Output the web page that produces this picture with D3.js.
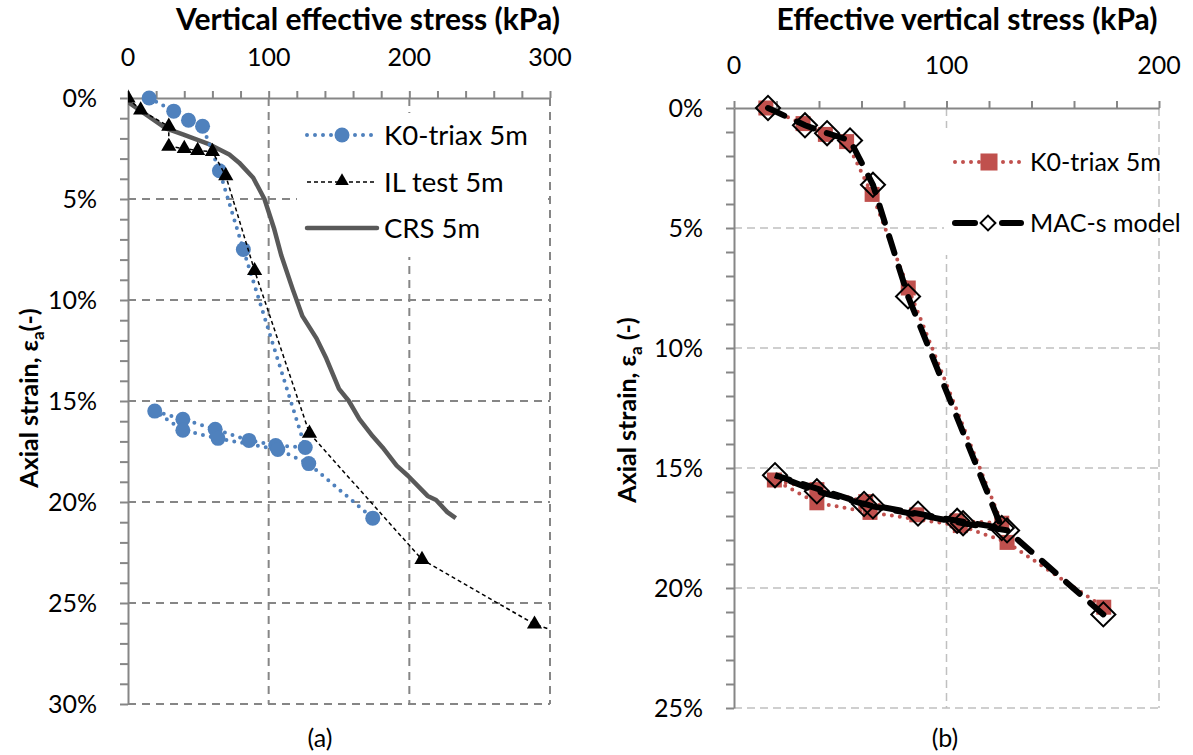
<!DOCTYPE html>
<html>
<head>
<meta charset="utf-8">
<script src="https://cdn.jsdelivr.net/npm/d3@7"></script>
<style>
  body { margin: 0; background: #fff; }
  svg { display: block; font-family: Lato, 'Open Sans', sans-serif; }
</style>
</head>
<body>
<svg id="chart" width="1193" height="755"></svg>
<script>
// K0-triax 5m (same test in both panels): loading, unloading, reloading
const k0Stress = [15, 32.5, 43, 53, 65, 82, 126, 105, 86, 62, 39, 19, 39, 64, 106.5, 128.5, 174]
const k0Strain = [0, 0.65, 1.1, 1.4, 3.6, 7.5, 17.3, 17.2, 16.95, 16.4, 15.9, 15.5, 16.45, 16.85, 17.4, 18.1, 20.8]

// IL test 5m
const ilStress = [0, 9, 29, 29, 40, 49.5, 60, 69.5, 90, 129, 209, 289, 330]
const ilStrain = [0, 0.6, 1.4, 2.4, 2.5, 2.6, 2.65, 3.85, 8.55, 16.6, 22.85, 26.05, 27.0]

// CRS 5m
const crsStress = [0, 27, 39, 58, 72, 79, 89, 97, 104, 109, 117, 124, 134, 141, 150, 157, 164.5, 174, 181, 191, 199, 213, 219, 227, 233]
const crsStrain = [0.2, 1.5, 1.8, 2.3, 2.8, 3.2, 3.95, 5.0, 6.5, 7.8, 9.45, 10.8, 11.9, 12.9, 14.4, 15.0, 15.9, 16.75, 17.3, 18.2, 18.7, 19.7, 19.9, 20.5, 20.8]

// MAC-s model
const macStress = [16, 33.4, 43.8, 54.6, 65.4, 81.9, 126, 105, 86.6, 61.2, 39, 19.3, 65.4, 107.8, 128.5, 173.8]
const macStrain = [0, 0.72, 1.05, 1.35, 3.2, 7.85, 17.5, 17.2, 16.9, 16.5, 15.97, 15.3, 16.6, 17.3, 17.6, 21.1]

// axis ticks
const xTicksA = [0, 100, 200, 300]
const yTicksA = [0, 5, 10, 15, 20, 25, 30]
const xTicksB = [0, 100, 200]
const yTicksB = [0, 5, 10, 15, 20, 25]

const svg = d3.select('#chart')
const zip = (a, b) => a.map((v, i) => [v, b[i]])

function panel (o) {
  const g = svg.append('g')
  const x = d3.scaleLinear().domain([0, d3.max(o.xTicks)]).range(o.xr)
  const y = d3.scaleLinear().domain([0, d3.max(o.yTicks)]).range(o.yr)

  g.append('clipPath').attr('id', o.id).append('rect')
    .attr('x', o.xr[0]).attr('y', o.yr[0] - 15)
    .attr('width', o.xr[1] - o.xr[0]).attr('height', o.yr[1] - o.yr[0] + 30)

  // gridlines
  g.selectAll('.vg').data(o.xTicks.slice(1)).enter().append('line')
    .attr('x1', d => x(d)).attr('x2', d => x(d))
    .attr('y1', o.yr[0]).attr('y2', o.yr[1])
    .attr('stroke', o.grid).attr('stroke-width', o.gridW).attr('stroke-dasharray', o.dash)
  g.selectAll('.hg').data(o.yTicks.slice(1)).enter().append('line')
    .attr('x1', o.xr[0]).attr('x2', o.xr[1])
    .attr('y1', d => y(d)).attr('y2', d => y(d))
    .attr('stroke', o.grid).attr('stroke-width', o.gridW).attr('stroke-dasharray', o.dash)

  // axes with minor ticks
  const xa = g.append('g').attr('transform', `translate(0,${o.yr[0]})`)
    .call(d3.axisTop(x).tickValues(d3.range(0, d3.max(o.xTicks) + 1, 20)).tickSize(7).tickSizeOuter(0).tickFormat(''))
  const ya = g.append('g').attr('transform', `translate(${o.xr[0]},0)`)
    .call(d3.axisLeft(y).tickValues(d3.range(0, d3.max(o.yTicks) + 0.5, 1)).tickSize(8).tickSizeOuter(0).tickFormat(''))
  ;[xa, ya].forEach(a => {
    a.selectAll('path, line').attr('stroke', '#868686').attr('stroke-width', 2)
  })

  g.selectAll('.xl').data(o.xTicks).enter().append('text')
    .attr('x', d => x(d)).attr('y', o.xLabelY)
    .attr('text-anchor', 'middle').attr('font-size', 25).text(d => d)
  g.selectAll('.yl').data(o.yTicks).enter().append('text')
    .attr('x', o.xr[0] - 31).attr('y', d => y(d) + 9)
    .attr('text-anchor', 'end').attr('font-size', 25).text(d => d + '%')

  g.append('text').attr('x', o.titleX).attr('y', 30)
    .attr('text-anchor', 'middle').attr('font-size', 30).attr('font-weight', 'bold').text(o.title)

  const yt = g.append('text')
    .attr('transform', `translate(${o.yTitleX},${o.yTitleY}) rotate(-90)`)
    .attr('text-anchor', 'middle').attr('font-size', 25).attr('font-weight', 'bold')
  yt.append('tspan').text('Axial strain, ε')
  yt.append('tspan').attr('font-size', 17).attr('dy', 6).text('a')
  yt.append('tspan').attr('dy', -6).text(o.yTitleEnd)

  g.append('text').attr('x', o.capX).attr('y', 747)
    .attr('text-anchor', 'middle').attr('font-size', 25).text(o.caption)

  const plot = g.append('g').attr('clip-path', `url(#${o.id})`)
  return { x, y, plot, g }
}

const line = (x, y) => d3.line().x(d => x(d[0])).y(d => y(d[1]))

// ---------- panel (a) ----------
const A = panel({
  id: 'clipA', xr: [128, 550], yr: [98, 704], xTicks: xTicksA, yTicks: yTicksA,
  grid: '#868686', gridW: 2, dash: '8,6', xLabelY: 66,
  title: 'Vertical effective stress (kPa)', titleX: 368,
  yTitleX: 38, yTitleY: 398, yTitleEnd: '(-)', caption: '(a)', capX: 320
})

A.g.append('rect').attr('x', 297).attr('y', 113).attr('width', 248).attr('height', 144).attr('fill', '#fff')

const k0 = zip(k0Stress, k0Strain)
const il = zip(ilStress, ilStrain)
const crs = zip(crsStress, crsStrain)

A.plot.append('path').datum(crs).attr('d', line(A.x, A.y))
  .attr('fill', 'none').attr('stroke', '#595959').attr('stroke-width', 4.5).attr('stroke-linejoin', 'round')

A.plot.append('path').datum(k0).attr('d', line(A.x, A.y))
  .attr('fill', 'none').attr('stroke', '#4f81bd').attr('stroke-width', 4)
  .attr('stroke-dasharray', '0,8').attr('stroke-linecap', 'round')
A.plot.selectAll('.k0').data(k0).enter().append('circle')
  .attr('cx', d => A.x(d[0])).attr('cy', d => A.y(d[1])).attr('r', 7.5).attr('fill', '#4f81bd')

A.plot.append('path').datum(il).attr('d', line(A.x, A.y))
  .attr('fill', 'none').attr('stroke', '#000').attr('stroke-width', 1.5).attr('stroke-dasharray', '4,3')
const tri = d3.symbol(d3.symbolTriangle, 100)
A.plot.selectAll('.il').data(il).enter().append('path')
  .attr('d', tri).attr('transform', d => `translate(${A.x(d[0])},${A.y(d[1])})`).attr('fill', '#000')

// legend (a)
const legA = A.g.append('g')
legA.append('line').attr('x1', 307).attr('x2', 377).attr('y1', 135).attr('y2', 135)
  .attr('stroke', '#4f81bd').attr('stroke-width', 4).attr('stroke-dasharray', '0,8').attr('stroke-linecap', 'round')
legA.append('circle').attr('cx', 342).attr('cy', 135).attr('r', 7.5).attr('fill', '#4f81bd')
legA.append('line').attr('x1', 307).attr('x2', 377).attr('y1', 182).attr('y2', 182)
  .attr('stroke', '#000').attr('stroke-width', 1.5).attr('stroke-dasharray', '4,3')
legA.append('path').attr('d', d3.symbol(d3.symbolTriangle, 80)).attr('transform', 'translate(342,181)')
legA.append('line').attr('x1', 307).attr('x2', 377).attr('y1', 228).attr('y2', 228)
  .attr('stroke', '#595959').attr('stroke-width', 4.5).attr('stroke-linecap', 'round')
legA.selectAll('text').data(['K0-triax 5m', 'IL test 5m', 'CRS 5m']).enter().append('text')
  .attr('x', 384).attr('y', (d, i) => [135, 182, 228][i] + 10).attr('font-size', 27.5).text(d => d)

// ---------- panel (b) ----------
const B = panel({
  id: 'clipB', xr: [734, 1159], yr: [108, 708], xTicks: xTicksB, yTicks: yTicksB,
  grid: '#c0c0c0', gridW: 1.5, dash: '8,5', xLabelY: 74,
  title: 'Effective vertical stress (kPa)', titleX: 967,
  yTitleX: 636, yTitleY: 410, yTitleEnd: ' (-)', caption: '(b)', capX: 945
})

B.g.append('rect').attr('x', 944).attr('y', 128).attr('width', 213).attr('height', 127).attr('fill', '#fff')

const mac = zip(macStress, macStrain)
const sq = d3.symbol(d3.symbolSquare, 225)
const dia = d3.symbol(d3.symbolSquare, 290)

B.plot.append('path').datum(k0).attr('d', line(B.x, B.y))
  .attr('fill', 'none').attr('stroke', '#c0504d').attr('stroke-width', 4)
  .attr('stroke-dasharray', '0,8').attr('stroke-linecap', 'round')
B.plot.selectAll('.k0b').data(k0).enter().append('path')
  .attr('d', sq).attr('transform', d => `translate(${B.x(d[0])},${B.y(d[1])})`).attr('fill', '#c0504d')

B.plot.append('path').datum(mac).attr('d', line(B.x, B.y))
  .attr('fill', 'none').attr('stroke', '#000').attr('stroke-width', 6)
  .attr('stroke-dasharray', '18,14').attr('stroke-linecap', 'round')
B.plot.selectAll('.mac').data(mac).enter().append('path')
  .attr('d', dia).attr('transform', d => `translate(${B.x(d[0])},${B.y(d[1])}) rotate(45)`)
  .attr('fill', 'none').attr('stroke', '#000').attr('stroke-width', 2)

// legend (b)
const legB = B.g.append('g')
legB.append('line').attr('x1', 955).attr('x2', 1022).attr('y1', 162).attr('y2', 162)
  .attr('stroke', '#c0504d').attr('stroke-width', 4).attr('stroke-dasharray', '0,8').attr('stroke-linecap', 'round')
legB.append('path').attr('d', d3.symbol(d3.symbolSquare, 290)).attr('transform', 'translate(989,162)').attr('fill', '#c0504d')
legB.append('line').attr('x1', 955).attr('x2', 975).attr('y1', 223).attr('y2', 223)
  .attr('stroke', '#000').attr('stroke-width', 6).attr('stroke-linecap', 'round')
legB.append('line').attr('x1', 1002).attr('x2', 1021).attr('y1', 223).attr('y2', 223)
  .attr('stroke', '#000').attr('stroke-width', 6).attr('stroke-linecap', 'round')
legB.append('path').attr('d', d3.symbol(d3.symbolSquare, 110)).attr('transform', 'translate(988,223) rotate(45)')
  .attr('fill', '#fff').attr('stroke', '#000').attr('stroke-width', 2)
legB.selectAll('text').data(['K0-triax 5m', 'MAC-s model']).enter().append('text')
  .attr('x', 1030).attr('y', (d, i) => [162, 223][i] + 9).attr('font-size', 25).text(d => d)
</script>
</body>
</html>
